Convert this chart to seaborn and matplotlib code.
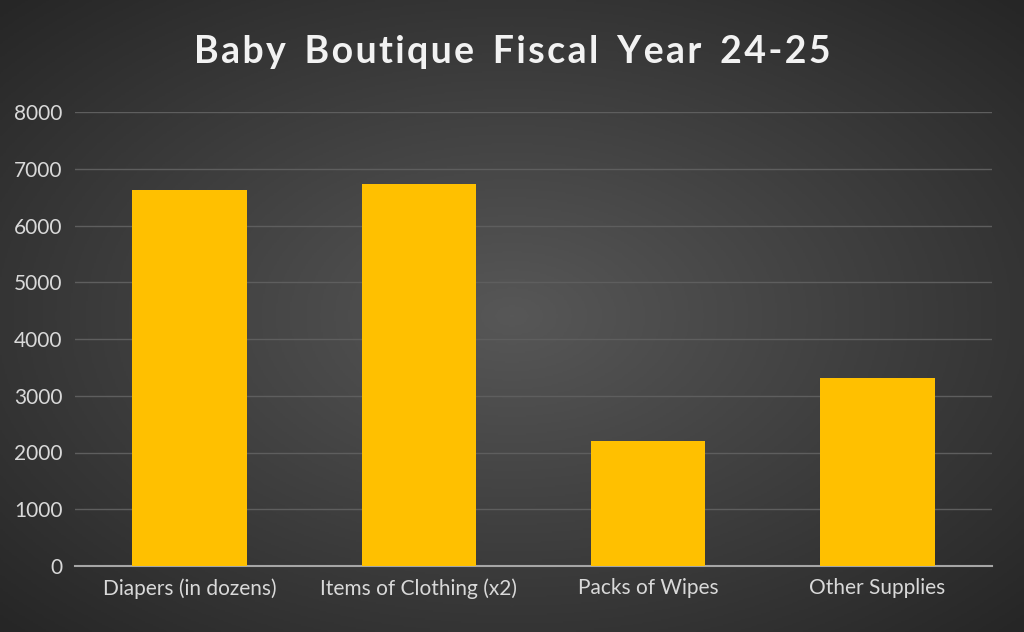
import numpy as np
import pandas as pd
import seaborn as sns
import matplotlib.pyplot as plt
from matplotlib.colors import LinearSegmentedColormap

categories = ["Diapers (in dozens)", "Items of Clothing (x2)", "Packs of Wipes", "Other Supplies"]
values = [6630, 6730, 2200, 3315]
yticks = [0, 1000, 2000, 3000, 4000, 5000, 6000, 7000, 8000]

df = pd.DataFrame({"Category": categories, "Value": values})

plt.rcParams["font.family"] = "Lato"
fig = plt.figure(figsize=(10.24, 6.32), dpi=100)

# radial gradient background, lighter in the middle
bg = fig.add_axes([0, 0, 1, 1], zorder=-1)
yy, xx = np.mgrid[-1:1:400j, -1:1:650j]
r = np.sqrt(xx**2 + yy**2)
cmap = LinearSegmentedColormap.from_list("bg", ["#575757", "#262626"])
bg.imshow(r, cmap=cmap, vmin=0, vmax=1.41, extent=[0, 1, 0, 1], aspect="auto")
bg.axis("off")

ax = fig.add_axes([75 / 1024, 1 - 566 / 632, 917 / 1024, 454 / 632])
ax.patch.set_alpha(0)
sns.barplot(data=df, x="Category", y="Value", color="#FFC000", saturation=1, width=0.5, ax=ax, zorder=3)

ax.set_xlim(-0.5, 3.5)
ax.set_ylim(0, 8000)
ax.set_yticks(yticks)
ax.grid(axis="y", color="#5e5e5e", linewidth=1, zorder=0)
ax.grid(axis="x", visible=False)
for s in ["top", "right", "left"]:
    ax.spines[s].set_visible(False)
ax.spines["bottom"].set_color("#a6a6a6")
ax.spines["bottom"].set_linewidth(1.5)
ax.tick_params(colors="#d9d9d9", labelsize=15, length=0, pad=9)
ax.set_xlabel("")
ax.set_ylabel("")

fig.text(0.5, 1 - 52 / 632, "B a b y  B o u t i q u e  F i s c a l  Y e a r  2 4 - 2 5".replace("  ", "\u2002").replace(" ", "\u200a"),
         ha="center", va="center", fontsize=27, fontweight="bold", color="#f2f2f2")

fig.savefig("out.png", dpi=100)
